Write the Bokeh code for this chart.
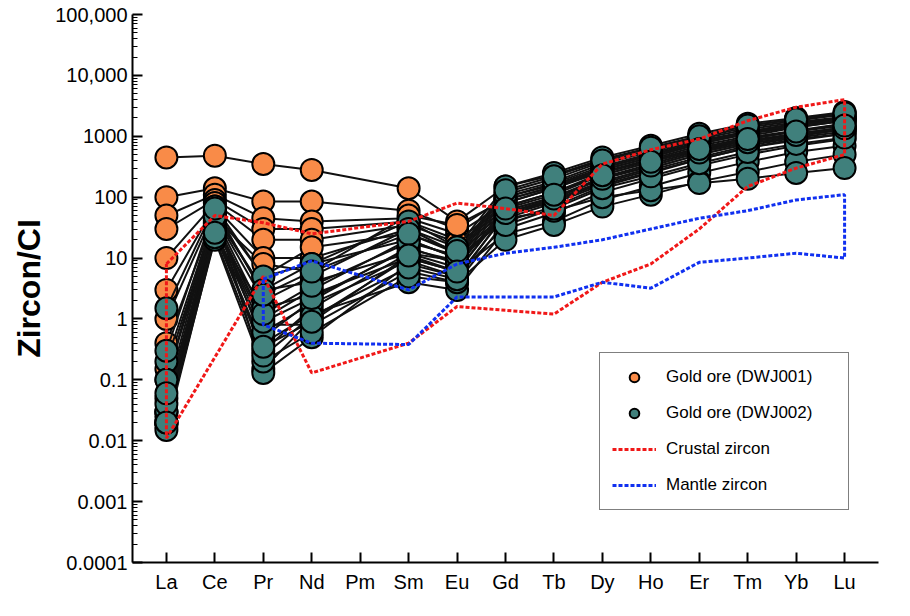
import numpy as np
from bokeh.plotting import figure
from bokeh.models import FixedTicker, Legend, LegendItem
from bokeh.embed import file_html
from bokeh.resources import INLINE

elements = ["La","Ce","Pr","Nd","Pm","Sm","Eu","Gd","Tb","Dy","Ho","Er","Tm","Yb","Lu"]
data_x = [1,2,3,4,6,7,8,9,10,11,12,13,14,15]  # Pm has no data

ore1 = [
[450,480,350,280,140,40,150,230,420,650,1000,1500,1900,2300],
[100,140,85,85,60,30,100,160,300,500,800,1200,1600,2000],
[50,110,45,40,45,25,80,140,260,420,700,1000,1400,1800],
[30,90,30,30,40,20,70,120,230,380,600,900,1200,1600],
[10,80,20,20,35,18,60,100,200,320,550,800,1100,1400],
[3,70,10,10,30,15,55,90,180,300,500,750,1000,1300],
[1,60,5,15,25,12,50,85,170,280,450,700,950,1200],
[0.4,50,3,8,20,10,45,80,160,260,420,650,900,1100],
[0.15,45,8,6,50,35,90,150,280,450,750,1100,1500,1900],
]
ore2 = [
[1.5,70,5,8,40,15,150,250,450,700,1100,1600,2000,2500],
[0.2,50,2,5,30,12,120,200,380,600,950,1400,1800,2300],
[0.1,40,1,3,20,10,100,170,320,520,850,1200,1600,2000],
[0.03,30,0.5,2,15,8,80,140,280,450,750,1100,1400,1800],
[0.02,25,0.3,1.5,12,7,70,120,250,400,650,950,1250,1600],
[0.018,20,0.15,1,10,6,60,100,210,350,580,850,1100,1400],
[0.025,60,0.13,0.5,8,5,50,90,180,300,500,750,1000,1300],
[0.05,35,0.8,0.8,6,4,40,70,150,250,420,650,850,1100],
[0.02,45,0.4,1.2,4,3,30,55,120,200,330,500,700,900],
[0.03,28,1.5,2.5,10,6,25,40,90,150,250,380,550,700],
[0.015,22,0.2,0.6,5,4,20,35,70,110,180,260,380,500],
[0.1,55,3,4,12,9,45,60,100,130,170,200,250,300],
[0.03,38,0.6,1.8,9,5,35,65,140,220,360,550,750,950],
[0.02,32,0.25,1.1,7,4.5,55,95,200,330,540,800,1050,1350],
[0.04,42,0.9,2.2,14,9,90,150,300,480,780,1150,1500,1900],
[0.06,48,1.2,3.5,18,11,110,180,350,560,900,1300,1700,2100],
[0.3,65,2.5,6,25,13,130,220,400,650,1000,1500,1900,2400],
[0.02,26,0.35,0.9,11,6,65,110,230,380,620,900,1200,1500],
]

crust_x = [1,2,3,4,6,7,8,9,10,11,12,13,14,15, 15,14,13,12,11,10,9,7,6,4,3,1,1]
crust_y = [8,50,38,25,40,80,65,50,350,600,900,1800,3000,4000,
           500,300,150,30,8,4,1.2,1.6,0.4,0.13,5,0.011,8]
mantle_x = [3,4,6,7,8,9,10,11,12,13,14,15, 15,14,13,12,11,10,9,7,6,4,3,3]
mantle_y = [4.5,9,3,8,12,15,20,30,45,60,90,110,
            10,12,10,8.5,3.2,4,2.3,2.3,0.38,0.4,0.8,4.5]

ticks_y = [1e-4,1e-3,1e-2,1e-1,1,10,100,1000,1e4,1e5]
tick_lbl = ["0.0001","0.001","0.01","0.1","1","10","100","1000","10,000","100,000"]

p = figure(width=894, height=600, y_axis_type="log", x_range=(0.3, 15.7), y_range=(1e-4, 1e5),
           output_backend="svg", toolbar_location=None,
           min_border_left=132, min_border_right=16, min_border_top=14, min_border_bottom=38)
p.xgrid.visible = False
p.ygrid.visible = False
p.outline_line_color = None

for s in ore1:
    p.line(data_x, s, line_color="#111111", line_width=2)
r1 = None
for s in ore1:
    r1 = p.scatter(data_x, s, size=22, fill_color="#F98B48", line_color="black", line_width=2)
for s in ore2:
    p.line(data_x, s, line_color="#111111", line_width=2)
r2 = None
for s in ore2:
    r2 = p.scatter(data_x, s, size=22, fill_color="#40807C", line_color="black", line_width=2)

rc = p.line(crust_x, crust_y, line_color="#F01818", line_width=3, line_dash="4 2")
rm = p.line(mantle_x, mantle_y, line_color="#1030F0", line_width=3, line_dash="4 2")

p.yaxis.ticker = FixedTicker(ticks=ticks_y, minor_ticks=[m*10.0**e for e in range(-4,5) for m in range(2,10)])
p.yaxis.major_label_overrides = {t: l for t, l in zip(ticks_y, tick_lbl)}
p.xaxis.ticker = FixedTicker(ticks=list(range(1,16)))
p.xaxis.major_label_overrides = {i+1: e for i, e in enumerate(elements)}
for ax in (p.xaxis, p.yaxis):
    ax.major_label_text_font = "Liberation Sans"
    ax.major_label_text_font_size = "20px"
    ax.major_label_text_color = "black"
    ax.axis_line_width = 2
    ax.major_tick_in = 10
    ax.major_tick_out = 0
    ax.major_tick_line_width = 2
    ax.minor_tick_in = 5
    ax.minor_tick_out = 0
p.xaxis.major_label_standoff = 8
p.yaxis.axis_label = "Zircon/CI"
p.yaxis.axis_label_text_font = "Liberation Sans"
p.yaxis.axis_label_text_font_size = "32px"
p.yaxis.axis_label_text_font_style = "bold"
p.yaxis.axis_label_text_color = "black"

leg = Legend(items=[LegendItem(label="Gold ore (DWJ001)", renderers=[r1]),
                    LegendItem(label="Gold ore (DWJ002)", renderers=[r2]),
                    LegendItem(label="Crustal zircon", renderers=[rc]),
                    LegendItem(label="Mantle zircon", renderers=[rm])],
             location=(467, 52), label_text_font="Liberation Sans", label_text_font_size="17px",
             label_text_color="black", label_width=170,
             border_line_color="black", border_line_width=1.5, padding=12, spacing=12,
             glyph_width=44, glyph_height=24, label_standoff=10)
p.add_layout(leg)

open("out.html", "w").write(file_html(p, INLINE))
